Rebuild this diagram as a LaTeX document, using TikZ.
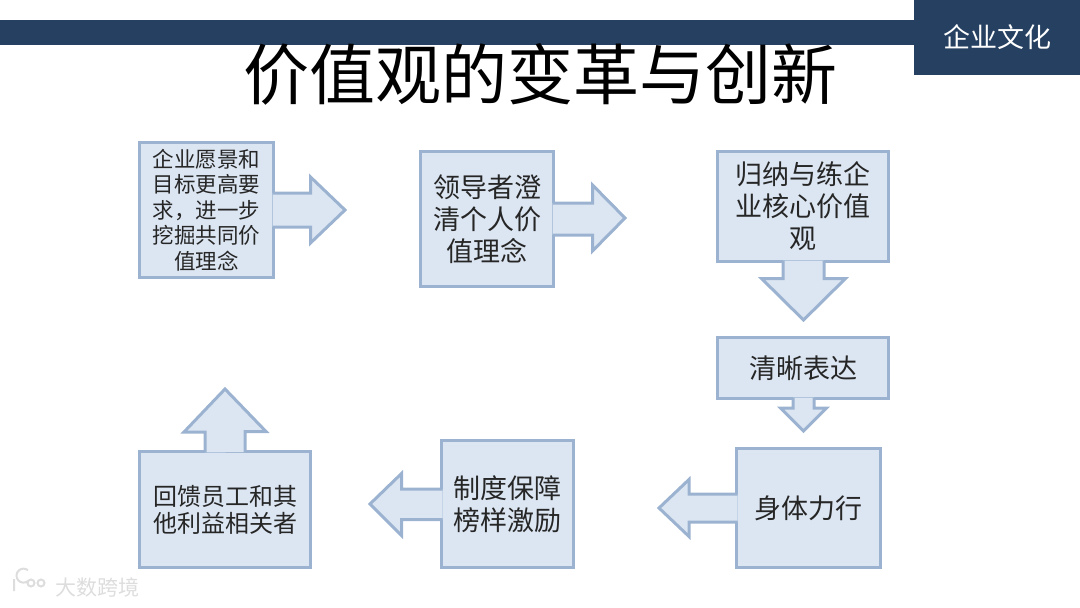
\documentclass[tikz,border=0pt]{standalone}
\usepackage{fontspec}
\setmainfont{Noto Sans CJK SC}
\usepackage{tikz}
\usetikzlibrary{positioning,calc}
\definecolor{bandblue}{HTML}{254061}
\definecolor{boxfill}{HTML}{DCE6F2}
\definecolor{boxline}{HTML}{9BB3D0}
\definecolor{marklight}{HTML}{DDDDDD}

\begin{document}
\begin{tikzpicture}[x=1pt,y=-1pt,line join=miter]
\tikzstyle{band}=[fill=bandblue,draw=none,inner sep=0pt]
\tikzstyle{bigbox}=[draw=boxline,fill=boxfill,line width=3pt,inner sep=0pt,align=center,text=black!85,font=\fontsize{27}{32}\selectfont]
\tikzstyle{pointer}=[draw=boxline,fill=boxfill,line width=3pt]
\useasboundingbox (0,0) rectangle (1080,608);
% header
\node[band,minimum width=914pt,minimum height=25pt] (bar) at (457,32.5) {};
\node[band,minimum width=166pt,minimum height=75pt,text=white,font=\fontsize{27}{32}\selectfont] (tag) at (997,37.5) {企业文化};
\node[inner sep=0pt,font=\fontsize{66}{72}\selectfont] (title) at (540.5,74) {价值观的变革与创新};
% boxes
\node[bigbox,minimum width=134pt,minimum height=135pt,font=\fontsize{21.5}{25.5}\selectfont] (vision) at (206.5,210) {企业愿景和\\目标更高要\\求，进一步\\挖掘共同价\\值理念};
\node[bigbox,minimum width=133pt,minimum height=135pt] (leader) at (487,219) {领导者澄\\清个人价\\值理念};
\node[bigbox,minimum width=171pt,minimum height=110pt] (core) at (803,206.5) {归纳与练企\\业核心价值\\观};
\node[bigbox,minimum width=171pt,minimum height=61pt] (clear) at (803,368) {清晰表达};
\node[bigbox,minimum width=144pt,minimum height=119pt] (act) at (808.5,508) {身体力行};
\node[bigbox,minimum width=132pt,minimum height=127pt] (system) at (507.5,504) {制度保障\\榜样激励};
\node[bigbox,minimum width=171pt,minimum height=116pt,font=\fontsize{24}{27}\selectfont] (reward) at (225,509.5) {回馈员工和其\\他利益相关者};
% pointers, open at the box side so the box outline stays broken there
\path[pointer] ($(vision.east)+(-2.5,-17)$) -- ++(38,0) -- ++(0,-16) -- ($(vision.east)+(70,0)$) -- ++(-34.5,33) -- ++(0,-16) -- ++(-38,0);
\path[pointer] ($(leader.east)+(-2.5,-16)$) -- ++(40,0) -- ++(0,-18) -- ($(leader.east)+(70,-1)$) -- ++(-32.5,33) -- ++(0,-16) -- ++(-40,0);
\path[pointer] ($(core.south)+(-20,-2.5)$) -- ++(0,18) -- ++(-21.5,0) -- ($(core.south)+(0.5,57)$) -- ++(42,-41.5) -- ++(-21.5,0) -- ++(0,-18);
\path[pointer] ($(clear.south)+(-10,-2.5)$) -- ++(0,10.5) -- ++(-12.5,0) -- ($(clear.south)+(0.5,31)$) -- ++(23,-23) -- ++(-12.5,0) -- ++(0,-10.5);
\path[pointer] ($(act.west)+(2.5,-14)$) -- ++(-48.5,0) -- ++(0,-14.5) -- ($(act.west)+(-76,0)$) -- ++(30,28.5) -- ++(0,-14.5) -- ++(48.5,0);
\path[pointer] ($(system.west)+(2.5,-15)$) -- ++(-41,0) -- ++(0,-15.5) -- ($(system.west)+(-70,0)$) -- ++(31.5,31.5) -- ++(0,-16) -- ++(41,0);
\path[pointer] ($(reward.north)+(-20,2.5)$) -- ++(0,-20.5) -- ++(-21,0) -- ($(reward.north)+(0,-61)$) -- ++(41,42.5) -- ++(-21,0) -- ++(0,20.5);
% watermark
\node[inner sep=0pt,text=marklight,font=\fontsize{21}{24}\selectfont] (mark) at (97.5,587) {大数跨境};
\draw[marklight,line width=2pt] (14,579) -- (14,591) (28,581) arc (50:310:7) (31,583) circle (3.5) (41,583) circle (3.5);
\end{tikzpicture}
\end{document}
